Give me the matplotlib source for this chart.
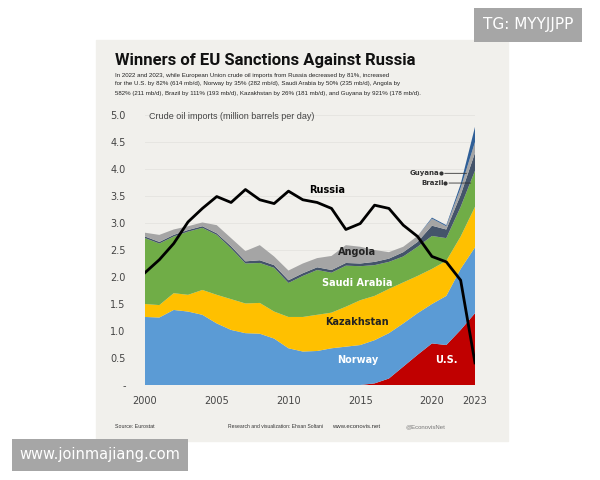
import numpy as np
import matplotlib.pyplot as plt
from matplotlib.patches import Rectangle

years = list(range(2000, 2024))

# layer thicknesses, million barrels per day
us = [0, 0, 0, 0, 0, 0, 0, 0, 0, 0, 0, 0, 0, 0, 0, 0.0,
      0.03, 0.12, 0.34, 0.56, 0.77, 0.74, 1.02, 1.33]
norway = [1.26, 1.25, 1.39, 1.36, 1.30, 1.14, 1.02, 0.96, 0.95, 0.86, 0.68, 0.62,
          0.63, 0.68, 0.71, 0.74, 0.80, 0.84, 0.80, 0.77, 0.73, 0.91, 1.13, 1.22]
kazakhstan = [0.24, 0.23, 0.31, 0.31, 0.46, 0.53, 0.57, 0.55, 0.57, 0.50, 0.58, 0.64,
              0.67, 0.66, 0.74, 0.83, 0.82, 0.82, 0.76, 0.69, 0.65, 0.65, 0.60, 0.75]
saudi = [1.22, 1.14, 1.05, 1.17, 1.15, 1.11, 0.94, 0.74, 0.74, 0.81, 0.63, 0.76,
         0.83, 0.74, 0.76, 0.63, 0.57, 0.50, 0.48, 0.54, 0.61, 0.42, 0.55, 0.67]
brazil = [0.03, 0.03, 0.03, 0.03, 0.03, 0.03, 0.04, 0.04, 0.05, 0.05, 0.05, 0.05,
          0.05, 0.05, 0.05, 0.05, 0.06, 0.06, 0.08, 0.09, 0.19, 0.16, 0.22, 0.33]
angola = [0.07, 0.13, 0.10, 0.07, 0.07, 0.15, 0.15, 0.19, 0.28, 0.16, 0.18, 0.18,
          0.17, 0.26, 0.33, 0.31, 0.22, 0.12, 0.10, 0.11, 0.13, 0.06, 0.13, 0.20]
guyana = [0, 0, 0, 0, 0, 0, 0, 0, 0, 0, 0, 0, 0, 0, 0, 0,
          0, 0, 0, 0, 0.02, 0.02, 0.07, 0.28]
russia = [2.08, 2.32, 2.62, 3.02, 3.27, 3.49, 3.38, 3.62, 3.43, 3.36, 3.59, 3.43,
          3.38, 3.27, 2.88, 2.99, 3.33, 3.27, 2.96, 2.75, 2.38, 2.28, 1.94, 0.41]

layers = [us, norway, kazakhstan, saudi, brazil, angola, guyana]
colors = ['#c00000', '#5b9bd5', '#ffc000', '#70ad47', '#44546a', '#a5a5a5', '#2f5f97']

xticks = [2000, 2005, 2010, 2015, 2020, 2023]
yticks = [0, 0.5, 1.0, 1.5, 2.0, 2.5, 3.0, 3.5, 4.0, 4.5, 5.0]
ylabels = ['-', '0.5', '1.0', '1.5', '2.0', '2.5', '3.0', '3.5', '4.0', '4.5', '5.0']

narrow = ['Liberation Sans', 'DejaVu Sans']
panel_bg = '#f1f0ec'

fig = plt.figure(figsize=(6, 4.8), dpi=100)
fig.patches.append(Rectangle((0.16, 0.081), 0.687, 0.836, transform=fig.transFigure,
                             color=panel_bg, zorder=-10))

ax = fig.add_axes([145 / 600, 1 - 385 / 480, 330 / 600, 270 / 480])
ax.set_facecolor('none')
ax.stackplot(years, *layers, colors=colors, linewidth=0)
ax.plot(years, russia, color='black', lw=2, zorder=5)

ax.set_xlim(2000, 2023)
ax.set_ylim(0, 5.0)
for s in ax.spines.values():
    s.set_visible(False)
ax.set_yticks(yticks)
ax.set_yticklabels(ylabels, fontsize=7, color='#444444')
ax.set_xticks(xticks)
ax.set_xticklabels([str(x) for x in xticks], fontsize=7, color='#444444')
ax.tick_params(length=0, pad=14, axis='y')
ax.tick_params(length=0, pad=8, axis='x')
ax.yaxis.grid(True, color='#e4e3df', lw=0.6)
ax.set_axisbelow(True)

ax.text(2000.3, 4.97, 'Crude oil imports (million barrels per day)', fontsize=6.5,
        color='#444444', family=narrow, va='center')

# series labels
ax.text(2012.7, 3.55, 'Russia', fontsize=7, weight='bold', ha='center')
ax.text(2014.8, 2.40, 'Angola', fontsize=7, weight='bold', ha='center', color='#222222')
ax.text(2014.8, 1.83, 'Saudi Arabia', fontsize=7, weight='bold', ha='center', color='white')
ax.text(2014.8, 1.11, 'Kazakhstan', fontsize=7, weight='bold', ha='center', color='#222222')
ax.text(2014.8, 0.40, 'Norway', fontsize=7, weight='bold', ha='center', color='white')
ax.text(2021.0, 0.40, 'U.S.', fontsize=7, weight='bold', ha='center', color='white')

ax.annotate('Guyana', xy=(2022.6, 3.92), xytext=(2020.5, 3.92), fontsize=5, weight='bold',
            color='#333333', ha='right', va='center',
            arrowprops=dict(arrowstyle='-', color='#333333', lw=0.6))
ax.plot(2020.6, 3.92, 'o', ms=2, color='#333333')
ax.annotate('Brazil', xy=(2022.9, 3.74), xytext=(2020.8, 3.74), fontsize=5, weight='bold',
            color='#333333', ha='right', va='center',
            arrowprops=dict(arrowstyle='-', color='#333333', lw=0.6))
ax.plot(2020.9, 3.74, 'o', ms=2, color='#333333')

# titles
fig.text(115 / 600, 1 - 60 / 480, 'Winners of EU Sanctions Against Russia', fontsize=12,
         weight='bold', va='center', color='#111111', family=['Roboto', 'DejaVu Sans'])
sub = ['In 2022 and 2023, while European Union crude oil imports from Russia decreased by 81%, increased',
       'for the U.S. by 82% (614 mb/d), Norway by 35% (282 mb/d), Saudi Arabia by 50% (235 mb/d), Angola by',
       '582% (211 mb/d), Brazil by 111% (193 mb/d), Kazakhstan by 26% (181 mb/d), and Guyana by 921% (178 mb/d).']
for i, line in enumerate(sub):
    fig.text(115 / 600, 1 - (75 + 9 * i) / 480, line, fontsize=4.4, va='center',
             color='#222222', family=narrow)

# footer
fy = 1 - 427 / 480
fig.text(115 / 600, fy, 'Source: Eurostat', fontsize=3.8, va='center', color='#333333', family=narrow)
fig.text(228 / 600, fy, 'Research and visualization: Ehsan Soltani', fontsize=3.6, va='center',
         color='#333333', family=narrow)
fig.text(332 / 600, fy, 'www.econovis.net', fontsize=4.3, va='center', color='#333333', family=narrow)
fig.text(405 / 600, fy, '@EconovisNet', fontsize=4.3, va='center', color='#777777', family=narrow)

# page overlays
fig.text(528 / 600, 1 - 25 / 480, 'TG: MYYJJPP', fontsize=11, color='white', ha='center',
         va='center', bbox=dict(boxstyle='square,pad=0.6', fc='#a6a6a6', ec='none'))
fig.text(100 / 600, 1 - 455 / 480, 'www.joinmajiang.com', fontsize=10.5, color='white',
         ha='center', va='center', bbox=dict(boxstyle='square,pad=0.55', fc='#a6a6a6', ec='none'))

fig.savefig('out.png', dpi=100, facecolor='white')
